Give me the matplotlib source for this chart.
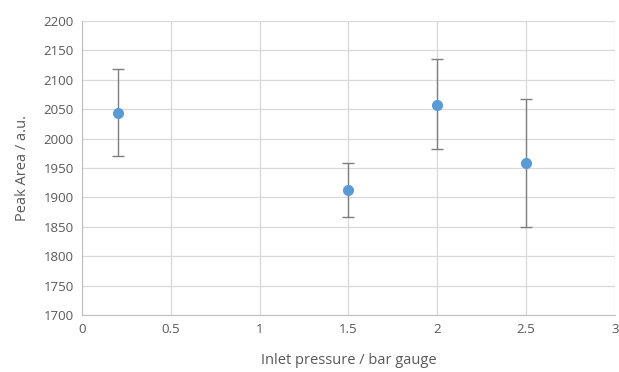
import numpy as np
import matplotlib
matplotlib.use("Agg")
import matplotlib.pyplot as plt

plt.rcParams['font.family'] = ['Open Sans', 'DejaVu Sans']

# data
pressure = [0.2, 1.5, 2.0, 2.5]
peak_area = [2044, 1913, 2058, 1958]
err_low = [2044 - 1971, 1913 - 1867, 2058 - 1983, 1958 - 1850]
err_high = [2118 - 2044, 1958 - 1913, 2135 - 2058, 2067 - 1958]

fig = plt.figure(figsize=(6.19, 3.72), dpi=100)
ax = fig.add_axes([0.1325, 0.1532, 0.861, 0.7903])

ax.errorbar(pressure, peak_area, yerr=[err_low, err_high], fmt='o',
            color='#5b9bd5', markersize=7, ecolor='#7f7f7f', elinewidth=1,
            capsize=4, capthick=1, zorder=3)

ax.set_xlim(0, 3)
ax.set_ylim(1700, 2200)
ax.set_xticks(np.arange(0, 3.01, 0.5))
ax.set_xticklabels(['0', '0.5', '1', '1.5', '2', '2.5', '3'])
ax.set_yticks(np.arange(1700, 2201, 50))
ax.grid(True, color='#d9d9d9', lw=0.9, zorder=0)
ax.set_axisbelow(True)
for s in ['top', 'right']:
    ax.spines[s].set_visible(False)
for s in ['left', 'bottom']:
    ax.spines[s].set_color('#bfbfbf')
ax.tick_params(length=0, colors='#595959', labelsize=9.5, pad=6)
ax.set_xlabel('Inlet pressure / bar gauge', color='#595959', fontsize=10.5, labelpad=12)
ax.set_ylabel('Peak Area / a.u.', color='#595959', fontsize=10.5, labelpad=10)

fig.savefig('out.png', dpi=100)
